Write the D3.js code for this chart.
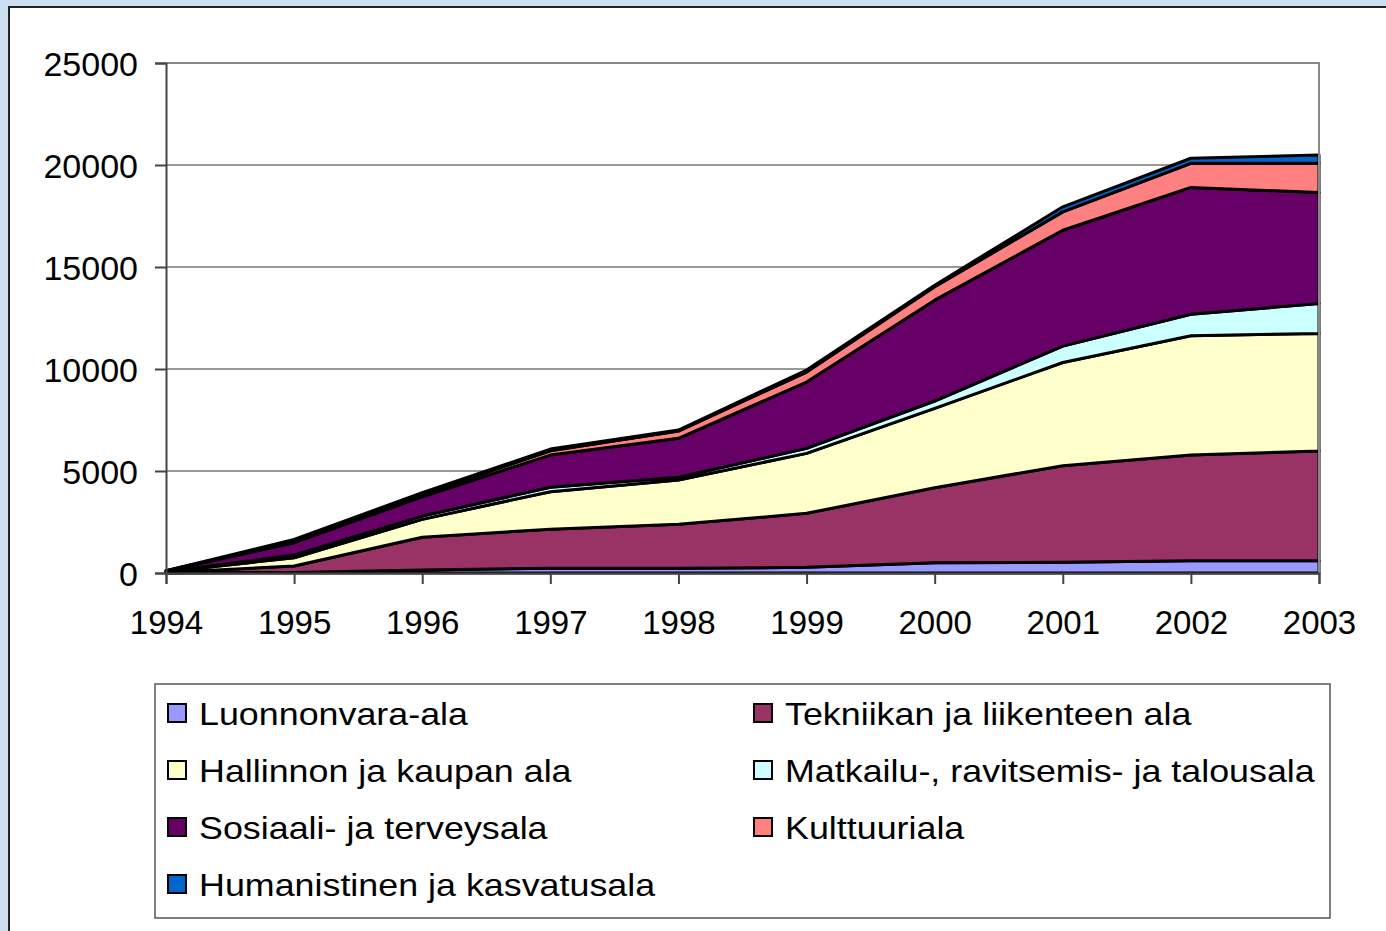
<!DOCTYPE html>
<html>
<head>
<meta charset="utf-8">
<script src="https://cdn.jsdelivr.net/npm/d3@7"></script>
<style>
  body { margin: 0; background: #cddff1; }
  text { font-family: "Liberation Sans", Arial, sans-serif; fill: #000; }
</style>
</head>
<body>
<script>
// data
var years = [1994, 1995, 1996, 1997, 1998, 1999, 2000, 2001, 2002, 2003];
var names = ["Luonnonvara-ala", "Tekniikan ja liikenteen ala", "Hallinnon ja kaupan ala",
  "Matkailu-, ravitsemis- ja talousala", "Sosiaali- ja terveysala", "Kulttuuriala",
  "Humanistinen ja kasvatusala"];
var colors = ["#9999ff", "#993366", "#ffffcc", "#ccffff", "#660066", "#ff8080", "#0066cc"];
var luonnonvara = [0, 30, 147, 230, 230, 280, 505, 525, 600, 600];
var tekniikka   = [30, 313, 1603, 1920, 2155, 2645, 3675, 4735, 5180, 5380];
var hallinto    = [30, 407, 880, 1835, 2175, 2940, 3890, 5060, 5850, 5760];
var matkailu    = [0, 130, 160, 215, 130, 245, 360, 800, 1050, 1475];
var sosiaali    = [40, 605, 950, 1580, 1910, 3250, 4945, 5680, 6220, 5435];
var kulttuuri   = [10, 85, 130, 210, 360, 490, 655, 900, 1180, 1430];
var humanist    = [0, 80, 65, 85, 50, 100, 80, 250, 250, 410];
var yTicks = [0, 5000, 10000, 15000, 20000, 25000];

var series = [luonnonvara, tekniikka, hallinto, matkailu, sosiaali, kulttuuri, humanist];
var rows = years.map(function(y, i) {
  var r = { year: y };
  names.forEach(function(n, k) { r[n] = series[k][i]; });
  return r;
});

var w = 1386, h = 931;
var svg = d3.select("body").append("svg").attr("width", w).attr("height", h);

// white slide panel
svg.append("rect").attr("x", 9).attr("y", 7).attr("width", w).attr("height", h)
  .attr("fill", "#fff").attr("stroke", "#222").attr("stroke-width", 2);

var x = d3.scaleLinear().domain([1994, 2003]).range([166, 1319]);
var y = d3.scaleLinear().domain([0, 25000]).range([573, 63]);

// gridlines
svg.append("g").selectAll("line").data(yTicks.slice(1)).enter().append("line")
  .attr("x1", 166).attr("x2", 1319)
  .attr("y1", function(d) { return y(d); }).attr("y2", function(d) { return y(d); })
  .attr("stroke", "#333").attr("stroke-width", 1);

var stack = d3.stack().keys(names)(rows);
var area = d3.area()
  .x(function(d) { return x(d.data.year); })
  .y0(function(d) { return y(d[0]); })
  .y1(function(d) { return y(d[1]); });

svg.append("g").selectAll("path").data(stack).enter().append("path")
  .attr("d", area)
  .attr("fill", function(d, i) { return colors[i]; })
  .attr("stroke", "#000").attr("stroke-width", 3).attr("stroke-linejoin", "round");

// plot border (top / right)
svg.append("path").attr("d", "M166,63H1319V573")
  .attr("fill", "none").attr("stroke", "#888").attr("stroke-width", 2);

var yAxis = d3.axisLeft(y).tickValues(yTicks).tickSize(11).tickPadding(17).tickFormat(d3.format("d"));
var gy = svg.append("g").attr("transform", "translate(166,0)").call(yAxis);
gy.selectAll("text").style("font-size", "34px").attr("dy", "0.36em");

var xAxis = d3.axisBottom(x).tickValues(years).tickSize(11).tickPadding(27).tickFormat(d3.format("d"));
var gx = svg.append("g").attr("transform", "translate(0,573)").call(xAxis);
gx.selectAll("text").style("font-size", "33px");

[gx, gy].forEach(function(g) {
  g.select(".domain").attr("stroke", "#444").attr("stroke-width", 2);
  g.selectAll(".tick line").attr("stroke", "#444").attr("stroke-width", 2);
  g.selectAll("text").attr("fill", "#000").style("font-family", "'Liberation Sans', Arial, sans-serif");
});

// legend
svg.append("rect").attr("x", 155).attr("y", 684).attr("width", 1175).attr("height", 234)
  .attr("fill", "#fff").attr("stroke", "#555").attr("stroke-width", 1.5);

var lg = svg.append("g").selectAll("g").data(names).enter().append("g")
  .attr("transform", function(d, i) {
    return "translate(" + (i % 2 ? 754 : 168) + "," + (713 + Math.floor(i / 2) * 57) + ")";
  });
lg.append("rect").attr("x", 0).attr("y", -9).attr("width", 18).attr("height", 18)
  .attr("fill", function(d, i) { return colors[i]; })
  .attr("stroke", "#000").attr("stroke-width", 2);
lg.append("text").attr("transform", "translate(31,0) scale(1.12,1)").attr("dy", "0.36em")
  .style("font-size", "32px").text(function(d) { return d; });
</script>
</body>
</html>
